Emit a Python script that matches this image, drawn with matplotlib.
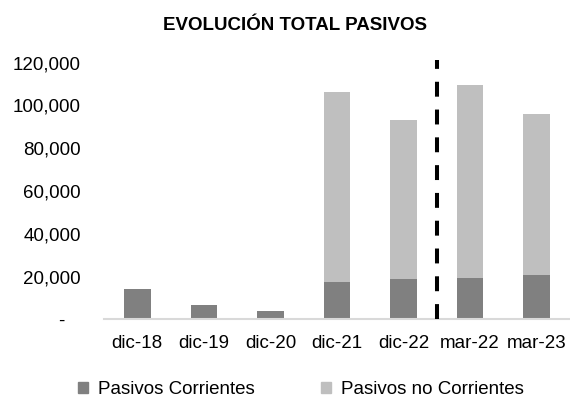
import matplotlib
matplotlib.use("Agg")
import matplotlib.pyplot as plt
from matplotlib.ticker import FuncFormatter
from matplotlib.patches import Patch

categories = ["dic-18", "dic-19", "dic-20", "dic-21", "dic-22", "mar-22", "mar-23"]
corrientes = [14000, 6700, 3900, 17600, 18700, 19200, 20700]
no_corrientes = [0, 0, 0, 88500, 74300, 90100, 75100]
title = "EVOLUCIÓN TOTAL PASIVOS"
yticks = [0, 20000, 40000, 60000, 80000, 100000, 120000]

plt.rcParams['font.family'] = ['Liberation Sans', 'DejaVu Sans']

fig = plt.figure(figsize=(5.7, 4.0), dpi=100)
ax = fig.add_axes([0.1825, 0.2017, 0.8175, 0.642])

x = list(range(len(categories)))
c_dark = "#808080"
c_light = "#BFBFBF"
ax.bar(x, corrientes, width=0.4, color=c_dark, zorder=2)
ax.bar(x, no_corrientes, width=0.4, bottom=corrientes, color=c_light, zorder=2)

ax.set_xlim(-0.5, len(categories) - 0.5)
ax.set_ylim(0, 120000)
ax.set_yticks(yticks)
ax.yaxis.set_major_formatter(FuncFormatter(lambda v, p: "-   " if v == 0 else f"{int(v):,}"))
ax.set_xticks(x)
ax.set_xticklabels(categories)
ax.tick_params(axis='both', length=0, labelsize=13.5, colors="black")
ax.tick_params(axis='x', pad=11)
ax.tick_params(axis='y', pad=16.5)

for s in ["top", "right", "left"]:
    ax.spines[s].set_visible(False)
ax.spines["bottom"].set_color("#D9D9D9")
ax.spines["bottom"].set_linewidth(1.5)

ax.plot([4.5, 4.5], [0, 121200], color="black", lw=2.9, ls=(0, (3.7, 3.2)),
        clip_on=False, zorder=3, solid_capstyle="butt", dash_capstyle="butt")

fig.text(0.5175, 0.937, title, ha="center", va="center", fontsize=13.5, fontweight="bold")

handles = [Patch(color=c_dark, label="Pasivos Corrientes"),
           Patch(color=c_light, label="Pasivos no Corrientes")]
fig.legend(handles=handles, loc="center", bbox_to_anchor=(0.528, 0.027), ncol=2,
           frameon=False, fontsize=13.5, handlelength=0.53, handleheight=0.53,
           handletextpad=0.53, columnspacing=3.57, borderpad=0, borderaxespad=0)

fig.savefig("out.png", dpi=100)
